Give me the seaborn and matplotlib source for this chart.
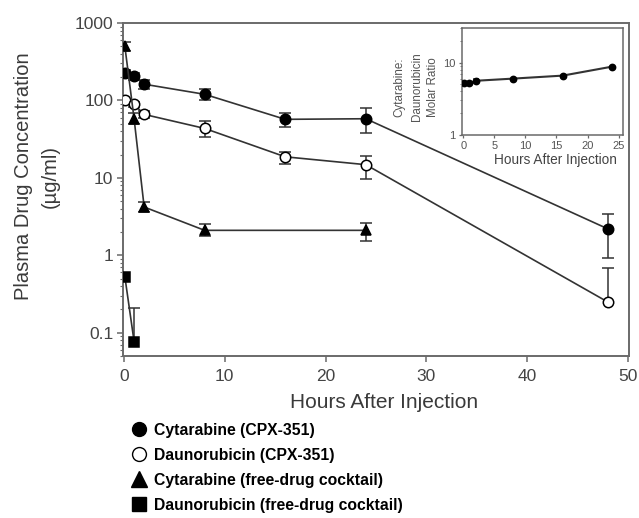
import numpy as np
import pandas as pd
import matplotlib
matplotlib.use("Agg")
import matplotlib.pyplot as plt
import seaborn as sns
from matplotlib.lines import Line2D
from matplotlib.ticker import FixedLocator, FixedFormatter, LogLocator, NullFormatter

# ---------------- data ----------------
t_cpx = [0.083, 1, 2, 8, 16, 24, 48]
cyt_cpx = [224, 205, 162, 120, 57, 58, 2.2]
cyt_cpx_lo = [200, 185, 140, 100, 45, 38, 0.91]
cyt_cpx_hi = [250, 225, 185, 140, 68, 79, 3.4]

dau_cpx = [100, 89, 66, 43.5, 18.7, 14.8, 0.25]
dau_cpx_lo = [np.nan, 82, 60, 34, 15.2, 9.7, np.nan]
dau_cpx_hi = [np.nan, 96, 72, 55, 21.8, 19.4, 0.68]

t_cyt_free = [0.083, 1, 2, 8, 24]
cyt_free = [500, 58, 4.2, 2.1, 2.1]
cyt_free_lo = [440, 49, 3.6, 1.8, 1.55]
cyt_free_hi = [560, 68, 4.9, 2.5, 2.6]

t_dau_free = [0.083, 1]
dau_free = [0.53, 0.077]
dau_free_lo = [np.nan, np.nan]
dau_free_hi = [np.nan, 0.21]

t_ratio = [0.083, 1, 2, 8, 16, 24]
ratio = [5.3, 5.2, 5.6, 6.0, 6.6, 8.8]
ratio_lo = [np.nan, np.nan, 5.2, np.nan, np.nan, np.nan]
ratio_hi = [np.nan, np.nan, 6.0, np.nan, np.nan, np.nan]

main_xticks = [0, 10, 20, 30, 40, 50]
main_yticks = [0.1, 1, 10, 100, 1000]
main_yticklabels = ["0.1", "1", "10", "100", "1000"]
inset_xticks = [0, 5, 10, 15, 20, 25]
inset_yticks = [1, 10]
inset_yticklabels = ["1", "10"]

legend_labels = ["Cytarabine (CPX-351)", "Daunorubicin (CPX-351)",
                 "Cytarabine (free-drug cocktail)", "Daunorubicin (free-drug cocktail)"]

# ---------------- style ----------------
sns.set_theme(style="ticks")
plt.rcParams["font.family"] = ["Liberation Sans", "DejaVu Sans"]

LINE = "#333333"
SPINE = "#6a6a6a"
TICKTXT = "#444444"
LABTXT = "#3a3a3a"

fig = plt.figure(figsize=(6.39, 5.18), dpi=100)
ax = fig.add_axes([0.1925, 0.3127, 0.7915, 0.6429])
ax.set_yscale("log")


def draw(a, t, y, lo, hi, marker, face, ms, lw=1.2, cap=8.5):
    t = np.asarray(t, float)
    y = np.asarray(y, float)
    lo = np.asarray(lo, float)
    hi = np.asarray(hi, float)
    df = pd.DataFrame({"t": t, "y": y})
    sns.lineplot(data=df, x="t", y="y", ax=a, color=LINE, lw=lw,
                 marker=marker, markersize=ms, markerfacecolor=face,
                 markeredgecolor="black", markeredgewidth=1.1,
                 estimator=None, sort=False, zorder=4)
    blo = np.where(np.isnan(lo), y, lo)
    bhi = np.where(np.isnan(hi), y, hi)
    a.vlines(t, blo, bhi, color=LINE, lw=1.1, zorder=2)
    a.plot(t, lo, ls="none", marker="_", ms=cap, mew=1.1, color=LINE, zorder=2)
    a.plot(t, hi, ls="none", marker="_", ms=cap, mew=1.1, color=LINE, zorder=2)


draw(ax, t_cpx, cyt_cpx, cyt_cpx_lo, cyt_cpx_hi, "o", "black", 7.5)
draw(ax, t_cpx, dau_cpx, dau_cpx_lo, dau_cpx_hi, "o", "white", 7.5)
draw(ax, t_cyt_free, cyt_free, cyt_free_lo, cyt_free_hi, "^", "black", 7.5)
draw(ax, t_dau_free, dau_free, dau_free_lo, dau_free_hi, "s", "black", 6.5)

ax.set_xlim(-0.1, 50.1)
ax.set_ylim(0.05, 1000)
ax.xaxis.set_major_locator(FixedLocator(main_xticks))
ax.yaxis.set_major_locator(FixedLocator(main_yticks))
ax.yaxis.set_major_formatter(FixedFormatter(main_yticklabels))
ax.yaxis.set_minor_locator(LogLocator(base=10, subs=np.arange(2, 10)))
ax.yaxis.set_minor_formatter(NullFormatter())
ax.tick_params(axis="both", which="major", direction="out", length=4, width=1.1,
               color=SPINE, labelcolor=TICKTXT, labelsize=12.5, pad=3)
ax.tick_params(axis="x", which="major", pad=5)
ax.tick_params(axis="y", which="minor", direction="out", length=2.5, width=0.8, color=SPINE)
for s in ax.spines.values():
    s.set_color(SPINE)
    s.set_linewidth(1.4)

ax.set_xlabel("Hours After Injection", fontsize=15, color=LABTXT)
ax.set_ylabel("Plasma Drug Concentration\n(µg/ml)", fontsize=14.5, color=LABTXT, linespacing=1.5)
ax.xaxis.set_label_coords(0.516, -0.11)
ax.yaxis.set_label_coords(-0.125, 0.54)

# ---------------- inset ----------------
axin = fig.add_axes([0.723, 0.7394, 0.252, 0.2066])
axin.set_yscale("log")
draw(axin, t_ratio, ratio, ratio_lo, ratio_hi, "o", "black", 4.5, lw=1.5, cap=5)
axin.set_xlim(-0.2, 25.7)
axin.set_ylim(1, 30)
axin.xaxis.set_major_locator(FixedLocator(inset_xticks))
axin.yaxis.set_major_locator(FixedLocator(inset_yticks))
axin.yaxis.set_major_formatter(FixedFormatter(inset_yticklabels))
axin.yaxis.set_minor_locator(LogLocator(base=10, subs=np.arange(2, 10)))
axin.yaxis.set_minor_formatter(NullFormatter())
axin.tick_params(axis="both", which="major", direction="out", length=2.5, width=0.9,
                 color=SPINE, labelcolor="#555555", labelsize=8, pad=2)
axin.tick_params(axis="y", which="minor", direction="out", length=1.5, width=0.6, color=SPINE)
for s in axin.spines.values():
    s.set_color(SPINE)
    s.set_linewidth(1.1)
axin.set_xlabel("Hours After Injection", fontsize=9.8, color="#444444")
axin.set_ylabel("Cytarabine:\nDaunorubicin\nMolar Ratio", fontsize=8.4, color="#555555", linespacing=1.55)
axin.xaxis.set_label_coords(0.58, -0.17)
axin.yaxis.set_label_coords(-0.14, 0.45)

# ---------------- legend ----------------
handles = [
    Line2D([], [], ls="none", marker="o", ms=10, mfc="black", mec="black"),
    Line2D([], [], ls="none", marker="o", ms=10, mfc="white", mec="black", mew=1.0),
    Line2D([], [], ls="none", marker="^", ms=11, mfc="black", mec="black"),
    Line2D([], [], ls="none", marker="s", ms=10, mfc="black", mec="black"),
]
leg = fig.legend(handles, legend_labels, loc="upper left", bbox_to_anchor=(0.205, 0.184),
                 frameon=False, borderpad=0, borderaxespad=0, handlelength=1.0,
                 handletextpad=0.45, labelspacing=0.64,
                 prop={"weight": "bold", "size": 11.3})
for txt in leg.get_texts():
    txt.set_color("black")

fig.savefig("out.png", dpi=100)
